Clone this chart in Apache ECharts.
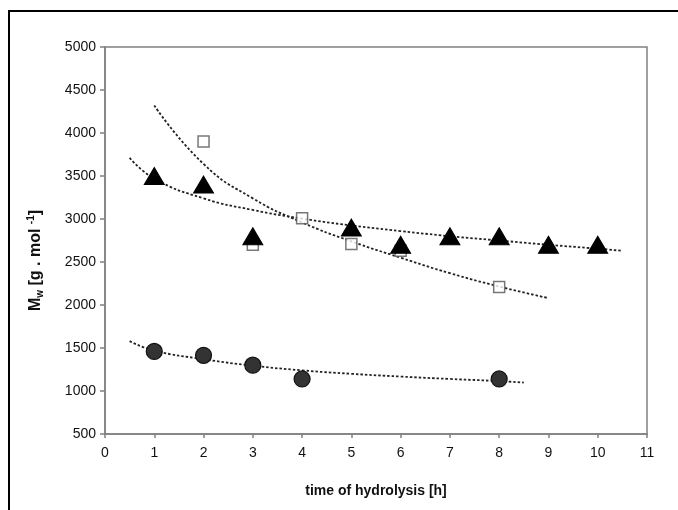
<!DOCTYPE html>
<html>
<head>
<meta charset="utf-8">
<script src="https://cdn.jsdelivr.net/npm/echarts@6/dist/echarts.min.js"></script>
<style>
  html, body { margin: 0; padding: 0; background: #fff; }
  #chart { width: 678px; height: 510px; }
</style>
</head>
<body>
<div id="chart"></div>
<script>
// measured points
var triangles = [[1, 3500], [2, 3400], [3, 2800], [5, 2900], [6, 2700], [7, 2800], [8, 2800], [9, 2700], [10, 2700]];
var squares = [[2, 3900], [3, 2700], [4, 3010], [5, 2710], [6, 2630], [8, 2210]];
var circles = [[1, 1460], [2, 1415], [3, 1300], [4, 1140], [8, 1140]];

// trend lines
var triangleTrend = [[0.5, 3710], [1, 3470], [2, 3240], [3, 3105], [4, 3005], [5, 2925], [6, 2860], [7, 2800], [8, 2750], [9, 2700], [10, 2655], [10.5, 2630]];
var squareTrend = [[1, 4320], [2, 3640], [3, 3240], [4, 2960], [5, 2740], [6, 2550], [7, 2370], [8, 2215], [9, 2080]];
var circleTrend = [[0.5, 1580], [1, 1470], [2, 1370], [3, 1295], [4, 1240], [5, 1200], [6, 1168], [7, 1140], [8, 1115], [8.5, 1098]];

var xTicks = [0, 11, 1];
var yTicks = [500, 5000, 500];

var trendStyle = { color: '#222', width: 1.8, type: [2.5, 2] };
var font = 'Liberation Sans';

var myChart = echarts.init(document.getElementById('chart'));
myChart.setOption({
    backgroundColor: '#fff',
    animation: false,
    graphic: [{
        type: 'rect',
        shape: { x: 9, y: 11, width: 700, height: 520 },
        style: { fill: 'none', stroke: '#000', lineWidth: 2 }
    }],
    grid: {
        left: 105, right: 31, top: 47, bottom: 76,
        show: true, borderColor: '#808080', borderWidth: 1.5
    },
    xAxis: {
        type: 'value',
        min: xTicks[0], max: xTicks[1], interval: xTicks[2],
        name: 'time of hydrolysis [h]',
        nameLocation: 'middle',
        nameGap: 50,
        nameTextStyle: { fontFamily: font, fontWeight: 'bold', fontSize: 14, color: '#111' },
        axisLine: { lineStyle: { color: '#808080', width: 1.5 } },
        axisTick: { inside: false, length: 4, lineStyle: { color: '#808080', width: 1.5 } },
        axisLabel: { fontFamily: font, fontSize: 14, color: '#111', margin: 12 },
        splitLine: { show: false }
    },
    yAxis: {
        type: 'value',
        min: yTicks[0], max: yTicks[1], interval: yTicks[2],
        name: '{m|M}{sub|w}{t| [g . mol }{sup|-1}{t|]}',
        nameLocation: 'middle',
        nameRotate: 90,
        nameGap: 60,
        nameTextStyle: {
            fontFamily: font, fontWeight: 'bold', fontSize: 16, color: '#111',
            padding: [0, 40, 0, 0],
            rich: {
                m: { fontFamily: font, fontWeight: 'bold', fontSize: 16, lineHeight: 19, color: '#111' },
                t: { fontFamily: font, fontWeight: 'bold', fontSize: 16, lineHeight: 19, color: '#111' },
                sub: { fontFamily: font, fontWeight: 'bold', fontSize: 10, lineHeight: 10, verticalAlign: 'bottom', color: '#111' },
                sup: { fontFamily: font, fontWeight: 'bold', fontSize: 10, lineHeight: 10, verticalAlign: 'top', color: '#111' }
            }
        },
        axisLine: { lineStyle: { color: '#808080', width: 1.5 } },
        axisTick: { inside: false, length: 5, lineStyle: { color: '#808080', width: 1.5 } },
        axisLabel: {
            fontFamily: font, fontSize: 14, color: '#111', margin: 9,
            formatter: function (v) { return String(v); }
        },
        splitLine: { show: false }
    },
    series: [
        { type: 'line', data: squareTrend, smooth: true, showSymbol: false, lineStyle: trendStyle, z: 1 },
        { type: 'line', data: triangleTrend, smooth: true, showSymbol: false, lineStyle: trendStyle, z: 1 },
        { type: 'line', data: circleTrend, smooth: true, showSymbol: false, lineStyle: trendStyle, z: 1 },
        {
            type: 'scatter', data: squares, symbol: 'rect', symbolSize: 11, z: 3,
            itemStyle: { color: '#fff', borderColor: '#555', borderWidth: 1.5 }
        },
        {
            type: 'scatter', data: triangles, symbol: 'triangle', symbolSize: [20, 17], z: 4,
            itemStyle: { color: '#000', borderColor: '#000', borderWidth: 1, opacity: 1 }
        },
        {
            type: 'scatter', data: circles, symbol: 'circle', symbolSize: 16, z: 4,
            itemStyle: { color: '#333', borderColor: '#111', borderWidth: 1.2, opacity: 1 }
        }
    ]
});
</script>
</body>
</html>
